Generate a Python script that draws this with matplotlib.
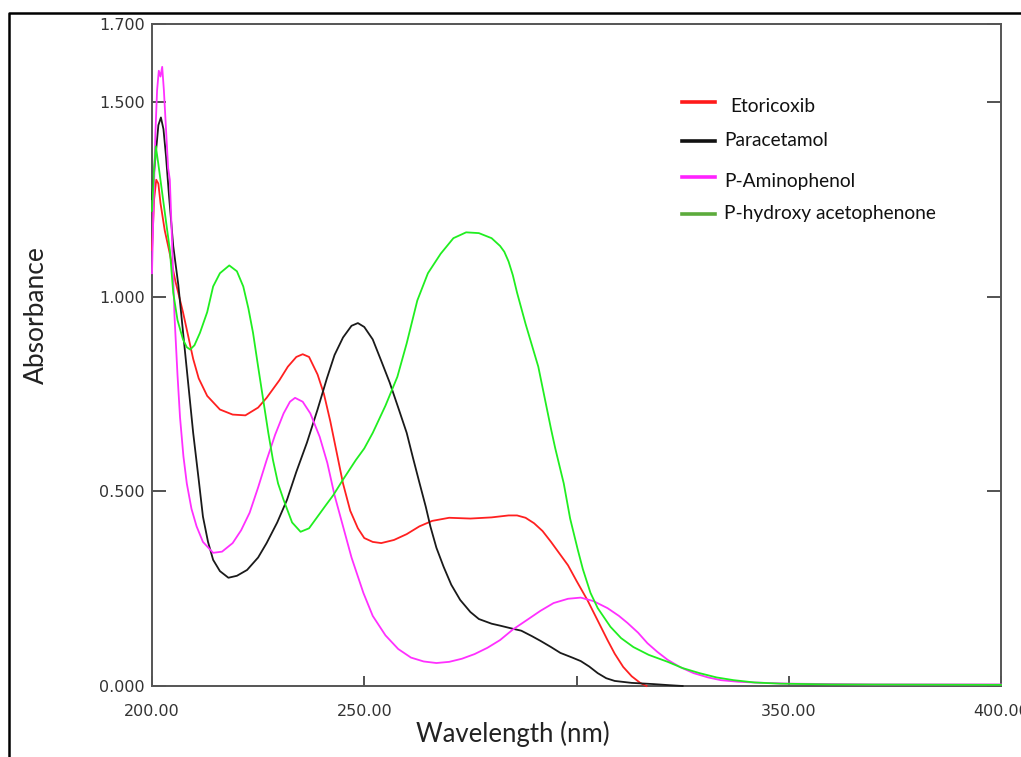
#!/usr/bin/env python3
"""UV absorption spectra of etoricoxib, paracetamol and two impurities."""

import matplotlib
matplotlib.use('Agg')
import matplotlib.pyplot as plt
from matplotlib.lines import Line2D

# Etoricoxib (red)
etori_wl = [200, 200.5, 201, 201.5, 202, 203, 204, 205.5, 207.3, 209.7, 211, 213, 216, 219,
            222, 225, 227, 230, 232, 234, 235.5, 237, 239, 240.5, 242, 243.5, 245, 246.7,
            248.5, 250, 252, 254, 257, 260, 263, 266, 270, 275, 280, 284, 286, 288, 290,
            292, 294, 296, 298, 300, 302.6, 305, 307.3, 309, 311, 313, 315, 316.5]
etori_abs = [1.12, 1.25, 1.30, 1.29, 1.24, 1.17, 1.12, 1.04, 0.96, 0.84, 0.79, 0.745, 0.71,
             0.697, 0.695, 0.715, 0.74, 0.785, 0.82, 0.845, 0.852, 0.845, 0.80, 0.75, 0.68,
             0.60, 0.52, 0.45, 0.405, 0.38, 0.37, 0.367, 0.375, 0.39, 0.41, 0.424, 0.432,
             0.43, 0.433, 0.438, 0.438, 0.432, 0.418, 0.398, 0.37, 0.34, 0.31, 0.27, 0.22,
             0.168, 0.118, 0.083, 0.049, 0.025, 0.008, 0.0]

# Paracetamol (black)
para_wl = [200, 200.5, 201, 201.5, 202.1, 202.7, 203.3, 204, 205, 206.2, 207.3, 208.5, 209.7,
           211, 212, 213.2, 214.4, 216, 218, 220, 222.4, 225, 227, 229.5, 231.8, 234, 236.5,
           239, 241.2, 243, 245, 247, 248.5, 250, 252, 254, 256, 258, 260, 261.5, 263, 264.5,
           265.6, 267, 268.7, 270.5, 272.6, 275, 277, 280, 282, 285, 287, 289.5, 291.5, 294,
           296.2, 299, 301, 303, 305, 307, 309, 313, 318, 322, 325]
para_abs = [1.25, 1.32, 1.38, 1.44, 1.46, 1.43, 1.36, 1.26, 1.13, 1.03, 0.91, 0.78, 0.65,
            0.53, 0.435, 0.37, 0.324, 0.295, 0.278, 0.283, 0.298, 0.33, 0.367, 0.42, 0.478,
            0.55, 0.625, 0.71, 0.79, 0.85, 0.895, 0.925, 0.932, 0.922, 0.89, 0.835, 0.779,
            0.715, 0.65, 0.585, 0.522, 0.46, 0.409, 0.355, 0.306, 0.26, 0.221, 0.19, 0.172,
            0.16, 0.155, 0.147, 0.142, 0.128, 0.116, 0.10, 0.085, 0.073, 0.064, 0.05, 0.033,
            0.02, 0.013, 0.008, 0.005, 0.002, 0.0]

# P-Aminophenol (magenta)
amino_wl = [200, 200.4, 200.8, 201.2, 201.6, 202, 202.4, 202.8, 203.3, 203.8, 204.2, 204.7,
            205.3, 206, 206.6, 207.4, 208.2, 209.3, 210.5, 212, 214.4, 216.5, 219, 221, 223,
            225, 227, 229, 231, 232.5, 233.7, 235.5, 237.3, 239.5, 241.3, 243, 245, 247,
            249.8, 252, 255, 258, 261, 264, 267, 270, 273, 276, 279, 282, 285, 288.4, 291.5,
            294.6, 298, 301, 304, 307.3, 310, 312, 314.5, 316.7, 319, 321.5, 324.5, 327.6,
            331, 334, 338, 341.7, 350, 370, 400]
amino_abs = [1.06, 1.25, 1.42, 1.53, 1.58, 1.565, 1.59, 1.53, 1.43, 1.33, 1.30, 1.15, 0.95,
             0.80, 0.69, 0.59, 0.52, 0.455, 0.41, 0.37, 0.342, 0.345, 0.367, 0.40, 0.445,
             0.51, 0.58, 0.645, 0.70, 0.73, 0.74, 0.73, 0.70, 0.64, 0.573, 0.49, 0.41, 0.33,
             0.239, 0.18, 0.13, 0.095, 0.073, 0.063, 0.059, 0.062, 0.07, 0.082, 0.098, 0.118,
             0.145, 0.17, 0.193, 0.213, 0.224, 0.227, 0.218, 0.20, 0.18, 0.162, 0.137, 0.11,
             0.088, 0.067, 0.048, 0.033, 0.022, 0.015, 0.011, 0.009, 0.006, 0.004, 0.004]

# P-hydroxy acetophenone (green)
hydroxy_wl = [200, 200.5, 200.9, 201.5, 202.6, 204.2, 205, 206, 207.3, 208.2, 209, 210, 211.3,
              213, 214.4, 216, 218.2, 220, 221.5, 222.7, 223.8, 225, 226.2, 227.4, 228.5,
              229.7, 231, 233, 235, 237, 239, 241, 242.7, 245, 248, 250, 252, 255, 257.8,
              260, 262.5, 265, 268, 271, 274, 277, 280, 282, 283, 284, 285, 286, 288, 291,
              294, 295, 297, 298.5, 300.3, 301.5, 303.3, 305, 308, 310.5, 313.4, 317, 321.5,
              325, 329, 333, 337, 342, 348, 360, 400]
hydroxy_abs = [1.22, 1.33, 1.386, 1.34, 1.25, 1.12, 1.01, 0.94, 0.89, 0.87, 0.864, 0.875,
               0.907, 0.96, 1.026, 1.06, 1.08, 1.065, 1.026, 0.97, 0.907, 0.82, 0.735, 0.65,
               0.58, 0.52, 0.478, 0.42, 0.396, 0.405, 0.435, 0.465, 0.49, 0.53, 0.58, 0.61,
               0.65, 0.72, 0.794, 0.88, 0.99, 1.06, 1.11, 1.15, 1.165, 1.163, 1.15, 1.13,
               1.115, 1.09, 1.055, 1.01, 0.93, 0.82, 0.66, 0.61, 0.52, 0.43, 0.35, 0.30,
               0.239, 0.20, 0.152, 0.123, 0.10, 0.08, 0.062, 0.046, 0.033, 0.022, 0.015,
               0.009, 0.006, 0.004, 0.003]

series_names = ['Etoricoxib', 'Paracetamol', 'P-Aminophenol', 'P-hydroxy acetophenone']
x_ticks = [200, 250, 300, 350, 400]
x_tick_labels = ['200.00', '250.00', '', '350.00', '400.00']
y_ticks = [0.0, 0.5, 1.0, 1.5, 1.7]
y_tick_labels = ['0.000', '0.500', '1.000', '1.500', '1.700']


def main():
    fig = plt.figure(figsize=(10.21, 7.57), dpi=100)
    ax = fig.add_axes([152 / 1021, 1 - 686 / 757, 849 / 1021, 662 / 757])

    curves = [
        (etori_wl, etori_abs, '#ff2020'),
        (para_wl, para_abs, '#1a1a1a'),
        (amino_wl, amino_abs, '#ff30ff'),
        (hydroxy_wl, hydroxy_abs, '#20ee20'),
    ]
    for wl, ab, color in curves:
        ax.plot(wl, ab, color=color, linewidth=1.3, clip_on=False, zorder=3)

    ax.set_xlim(200, 400)
    ax.set_ylim(0, 1.7)

    ax.set_xticks(x_ticks)
    ax.set_xticklabels(x_tick_labels)
    ax.set_yticks(y_ticks)
    ax.set_yticklabels(y_tick_labels)

    for spine in ax.spines.values():
        spine.set_color('#555555')
        spine.set_linewidth(1.4)

    ax.tick_params(axis='x', direction='in', length=7, width=1.3, color='#444444',
                   pad=13, labelsize=11.5, labelcolor='#333333')
    ax.tick_params(axis='y', direction='in', length=10, width=1.3, color='#444444',
                   pad=5, labelsize=11.5, labelcolor='#333333', right=True)

    ax.set_xlabel('Wavelength (nm)', family='Lato', fontsize=18.5, color='#222222',
                  labelpad=0)
    ax.xaxis.set_label_coords(0.425, -0.052)
    ax.set_ylabel('Absorbance', family='Lato', fontsize=19, color='#222222')
    ax.yaxis.set_label_coords(-0.121, 0.56)

    # legend drawn by hand, as in the original figure
    legend_colors = ['#ff1a1a', '#111111', '#ff22ff', '#5cab3c']
    legend_y = [102, 141, 177, 214]
    text_x = [730, 724, 724, 724]
    text_y = [106, 141, 182, 214]
    for name, color, ly, tx, ty in zip(series_names, legend_colors, legend_y, text_x, text_y):
        fig.add_artist(Line2D([682 / 1021, 715 / 1021], [1 - ly / 757, 1 - ly / 757],
                              color=color, linewidth=2.6, transform=fig.transFigure))
        fig.text(tx / 1021, 1 - ty / 757, name, family='Lato', fontsize=13.8,
                 color='#111111', va='center', ha='left')

    # outer frame (left and top edge)
    fig.add_artist(Line2D([9 / 1021, 9 / 1021, 1.0], [0.0, 1 - 13 / 757, 1 - 13 / 757],
                          color='black', linewidth=1.8, transform=fig.transFigure))

    fig.savefig('out.png', dpi=100)
    plt.close(fig)


if __name__ == '__main__':
    main()
